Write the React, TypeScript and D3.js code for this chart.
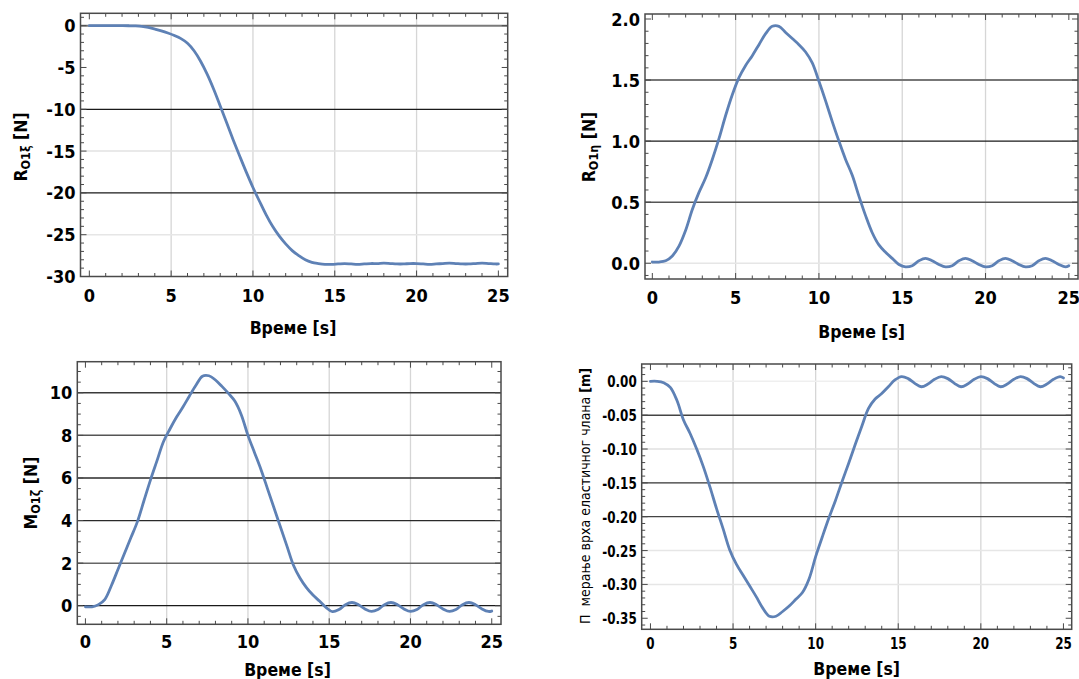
import React from 'react';
import * as d3 from 'd3';

// Sample times [s]
const TIME = [
  0, 0.4, 0.8, 1.2, 1.6, 2.0, 2.4, 2.8, 3.2, 3.6, 4.0, 4.4, 4.8, 5.2, 5.6, 6.0,
  6.4, 6.8, 7.2, 7.6, 8.0, 8.4, 8.8, 9.2, 9.6, 10.0, 10.4, 10.8, 11.2, 11.6, 12.0,
  12.4, 12.8, 13.2, 13.6, 14.0, 14.4, 14.8, 15.2, 15.6, 16.0, 16.4, 16.8, 17.2,
  17.6, 18.0, 18.4, 18.8, 19.2, 19.6, 20.0, 20.4, 20.8, 21.2, 21.6, 22.0, 22.4,
  22.8, 23.2, 23.6, 24.0, 24.4, 24.8, 25.0,
];

// R_O1xi [N]
const R_XI = [
  0, 0, 0, 0, 0, 0, -0.01, -0.03, -0.08, -0.2, -0.4, -0.62, -0.88, -1.18, -1.55, -2.1,
  -3.0, -4.25, -5.8, -7.6, -9.6, -11.65, -13.7, -15.65, -17.55, -19.35, -21.0, -22.6, -24.0, -25.15, -26.1,
  -26.9, -27.5, -28.0, -28.3, -28.45, -28.55, -28.55, -28.5, -28.45, -28.5, -28.55, -28.5, -28.45,
  -28.45, -28.4, -28.45, -28.5, -28.5, -28.45, -28.45, -28.5, -28.55, -28.5, -28.45, -28.4, -28.45,
  -28.5, -28.5, -28.45, -28.4, -28.45, -28.5, -28.5,
];

// R_O1eta [N]
const R_ETA = [
  0.01, 0.01, 0.02, 0.06, 0.14, 0.27, 0.44, 0.58, 0.70, 0.85, 1.02, 1.21, 1.38, 1.52, 1.62, 1.70,
  1.79, 1.88, 1.94, 1.94, 1.89, 1.84, 1.79, 1.73, 1.64, 1.49, 1.33, 1.16, 1.0, 0.85, 0.72,
  0.55, 0.39, 0.25, 0.15, 0.09, 0.04, -0.01, -0.03, -0.02, 0.02, 0.04, 0.02, -0.01,
  -0.03, -0.02, 0.02, 0.04, 0.02, -0.01, -0.03, -0.02, 0.02, 0.04, 0.02, -0.01, -0.03,
  -0.02, 0.02, 0.04, 0.02, -0.01, -0.03, -0.02,
];

// M_O1zeta [N]
const M_ZETA = [
  -0.05, -0.05, 0.05, 0.3, 0.95, 1.7, 2.45, 3.2, 3.95, 4.93, 5.9, 6.8, 7.7, 8.3, 8.85, 9.33,
  9.85, 10.35, 10.78, 10.8, 10.6, 10.3, 9.97, 9.6, 8.95, 8.0, 7.2, 6.4, 5.5, 4.6, 3.7,
  2.8, 1.9, 1.3, 0.85, 0.5, 0.22, -0.08, -0.28, -0.18, 0.05, 0.15, 0.05, -0.15,
  -0.27, -0.18, 0.05, 0.15, 0.05, -0.15, -0.27, -0.18, 0.05, 0.15, 0.05, -0.15, -0.27,
  -0.18, 0.05, 0.15, 0.05, -0.15, -0.27, -0.25,
];

// Tip displacement [m]
const DISP = [
  0, 0, -0.002, -0.009, -0.028, -0.057, -0.077, -0.1, -0.126, -0.156, -0.188, -0.218, -0.249, -0.27, -0.286, -0.302,
  -0.318, -0.335, -0.347, -0.347, -0.34, -0.332, -0.322, -0.312, -0.292, -0.259, -0.23, -0.202, -0.176, -0.148, -0.121,
  -0.093, -0.066, -0.04, -0.026, -0.018, -0.008, 0.002, 0.007, 0.004, -0.003, -0.008, -0.004, 0.003,
  0.007, 0.004, -0.003, -0.008, -0.004, 0.003, 0.007, 0.004, -0.003, -0.008, -0.004, 0.003, 0.007,
  0.004, -0.003, -0.008, -0.004, 0.003, 0.007, 0.005,
];

const X_TICKS = [0, 5, 10, 15, 20, 25];
const X_GRID = [5, 10, 15, 20];
const X_LABEL = 'Време [s]';

const Y_TICKS_1 = [0, -5, -10, -15, -20, -25, -30];
const Y_TICKS_2 = [0, 0.5, 1.0, 1.5, 2.0];
const Y_TICKS_3 = [0, 2, 4, 6, 8, 10];
const Y_TICKS_4 = [0, -0.05, -0.1, -0.15, -0.2, -0.25, -0.3, -0.35];

const LINE_COLOR = '#5e81b5';
const FRAME_COLOR = '#4a4a4a';
const FONT = "'DejaVu Sans Condensed', 'DejaVu Sans', sans-serif";

type HLine = { v: number; c: string; w: number };

interface Panel {
  values: number[];
  frame: { x0: number; x1: number; y0: number; y1: number };
  xDomain: [number, number];
  yDomain: [number, number];
  yTicks: number[];
  yMinorStep: number;
  decimals: number;
  hlines: HLine[];
  xTickDy: number;
  xLabelPos: [number, number];
  yLabelPos: [number, number];
  yLabel: React.ReactNode;
  yTickFont: number;
  xTickFont: number;
  tickScaleX: number;
}

const subLabel = (main: string, sub: string, unit: string) => (
  <>
    <tspan>{main}</tspan>
    <tspan dy={4} fontSize={12.5}>{sub}</tspan>
    <tspan dy={-4}>{' ' + unit}</tspan>
  </>
);

const panels: Panel[] = [
  {
    values: R_XI,
    frame: { x0: 80.5, x1: 507.7, y0: 13.3, y1: 276.5 },
    xDomain: [-0.54, 25.57],
    yDomain: [-30, 1.48],
    yTicks: Y_TICKS_1,
    yMinorStep: 1,
    decimals: 0,
    hlines: [
      { v: -15, c: '#e2e2e2', w: 1.5 },
      { v: -25, c: '#e6e6e6', w: 1.5 },
      { v: 0, c: '#7a7a7a', w: 2 },
      { v: -10, c: '#1a1a1a', w: 1.2 },
      { v: -20, c: '#1a1a1a', w: 1.2 },
    ],
    xTickDy: 18.5,
    xLabelPos: [293, 328],
    yLabelPos: [21, 147],
    yLabel: subLabel('R', 'O1ξ', '[N]'),
    yTickFont: 18,
    xTickFont: 18,
    tickScaleX: 1,
  },
  {
    values: R_ETA,
    frame: { x0: 645, x1: 1078, y0: 14, y1: 279 },
    xDomain: [-0.44, 25.55],
    yDomain: [-0.129, 2.041],
    yTicks: Y_TICKS_2,
    yMinorStep: 0.1,
    decimals: 1,
    hlines: [
      { v: 0, c: '#e6e6e6', w: 1.5 },
      { v: 1.5, c: '#777777', w: 2 },
      { v: 1.0, c: '#1a1a1a', w: 1.2 },
      { v: 0.5, c: '#555555', w: 1.5 },
    ],
    xTickDy: 18.7,
    xLabelPos: [861.7, 331.7],
    yLabelPos: [588.5, 147],
    yLabel: subLabel('R', 'O1η', '[N]'),
    yTickFont: 18,
    xTickFont: 18,
    tickScaleX: 1,
  },
  {
    values: M_ZETA,
    frame: { x0: 77.3, x1: 501, y0: 361.7, y1: 624.3 },
    xDomain: [-0.5, 25.57],
    yDomain: [-0.873, 11.46],
    yTicks: Y_TICKS_3,
    yMinorStep: 0.5,
    decimals: 0,
    hlines: [
      { v: 10, c: '#3a3a3a', w: 1.5 },
      { v: 8, c: '#555555', w: 1.5 },
      { v: 6, c: '#2a2a2a', w: 1.5 },
      { v: 4, c: '#2a2a2a', w: 1.2 },
      { v: 2, c: '#666666', w: 1.5 },
      { v: 0, c: '#1a1a1a', w: 1.2 },
    ],
    xTickDy: 17.4,
    xLabelPos: [287.5, 670],
    yLabelPos: [31, 493],
    yLabel: subLabel('M', 'O1ζ', '[N]'),
    yTickFont: 18,
    xTickFont: 18,
    tickScaleX: 1,
  },
  {
    values: DISP,
    frame: { x0: 641.7, x1: 1071.7, y0: 364, y1: 629.3 },
    xDomain: [-0.53, 25.5],
    yDomain: [-0.3663, 0.0256],
    yTicks: Y_TICKS_4,
    yMinorStep: 0.01,
    decimals: 2,
    hlines: [
      { v: 0, c: '#efefef', w: 1.5 },
      { v: -0.1, c: '#e0e0e0', w: 1.5 },
      { v: -0.25, c: '#e6e6e6', w: 1.5 },
      { v: -0.3, c: '#e6e6e6', w: 1.5 },
      { v: -0.05, c: '#444444', w: 1.5 },
      { v: -0.15, c: '#333333', w: 1.2 },
      { v: -0.2, c: '#444444', w: 1.2 },
    ],
    xTickDy: 14,
    xLabelPos: [856.7, 669.3],
    yLabelPos: [585, 496],
    yLabel: (
      <>
        <tspan fontWeight="normal" fontSize={14}>{'П\u00A0\u00A0мерање врха еластичног члана '}</tspan>
        <tspan fontSize={14}>[m]</tspan>
      </>
    ),
    yTickFont: 16,
    xTickFont: 16,
    tickScaleX: 0.83,
  },
];

function fmt(v: number, d: number) {
  return Math.abs(v) < 1e-9 ? (0).toFixed(d) : v.toFixed(d);
}

function TickText({ x, y, anchor, size, sx, children }: { x: number; y: number; anchor: string; size: number; sx: number; children: React.ReactNode }) {
  return (
    <g transform={`translate(${x},${y}) scale(${sx},1)`}>
      <text x={0} y={0} textAnchor={anchor} dominantBaseline="central" fontSize={size} fontWeight="bold" fontFamily={FONT} fontStretch="condensed" fill="#000">
        {children}
      </text>
    </g>
  );
}

function PlotPanel({ p, idx }: { p: Panel; idx: number }) {
  const { frame } = p;
  const x = d3.scaleLinear().domain(p.xDomain).range([frame.x0, frame.x1]);
  const y = d3.scaleLinear().domain(p.yDomain).range([frame.y1, frame.y0]);
  const pts: [number, number][] = TIME.map((t, i) => [t, p.values[i]]);
  const line = d3
    .line<[number, number]>()
    .x((d) => x(d[0]))
    .y((d) => y(d[1]))
    .curve(d3.curveCatmullRom.alpha(0.5));
  const xMinor = d3.range(0, 25.0001, 1);
  const [yl, yh] = p.yDomain;
  const yMinor: number[] = [];
  const start = Math.ceil(yl / p.yMinorStep - 1e-6);
  const end = Math.floor(yh / p.yMinorStep + 1e-6);
  for (let k = start; k <= end; k++) yMinor.push(k * p.yMinorStep);
  const isMajorY = (v: number) => p.yTicks.some((t) => Math.abs(t - v) < 1e-6);
  const isMajorX = (v: number) => X_TICKS.some((t) => Math.abs(t - v) < 1e-6);
  const clipId = `clip-${idx}`;
  const majorLen = 6;
  const minorLen = 3.5;
  return (
    <g>
      <defs>
        <clipPath id={clipId}>
          <rect x={frame.x0} y={frame.y0} width={frame.x1 - frame.x0} height={frame.y1 - frame.y0} />
        </clipPath>
      </defs>
      {X_GRID.map((g) => (
        <line key={'vg' + g} x1={x(g)} x2={x(g)} y1={frame.y0} y2={frame.y1} stroke="#d6d6d6" strokeWidth={1.3} />
      ))}
      {p.hlines.map((h) => (
        <line key={'hl' + h.v} x1={frame.x0} x2={frame.x1} y1={y(h.v)} y2={y(h.v)} stroke={h.c} strokeWidth={h.w} />
      ))}
      <path d={line(pts) || ''} fill="none" stroke={LINE_COLOR} strokeWidth={2.8} strokeLinejoin="round" strokeLinecap="round" clipPath={`url(#${clipId})`} />
      <rect x={frame.x0} y={frame.y0} width={frame.x1 - frame.x0} height={frame.y1 - frame.y0} fill="none" stroke={FRAME_COLOR} strokeWidth={1.5} />
      {xMinor.map((t) => {
        const L = isMajorX(t) ? majorLen : minorLen;
        return (
          <g key={'xt' + t}>
            <line x1={x(t)} x2={x(t)} y1={frame.y1} y2={frame.y1 - L} stroke={FRAME_COLOR} strokeWidth={1} />
            <line x1={x(t)} x2={x(t)} y1={frame.y0} y2={frame.y0 + L} stroke={FRAME_COLOR} strokeWidth={1} />
          </g>
        );
      })}
      {yMinor.map((v) => {
        const L = isMajorY(v) ? majorLen : minorLen;
        return (
          <g key={'yt' + v}>
            <line x1={frame.x0} x2={frame.x0 + L} y1={y(v)} y2={y(v)} stroke={FRAME_COLOR} strokeWidth={1} />
            <line x1={frame.x1} x2={frame.x1 - L} y1={y(v)} y2={y(v)} stroke={FRAME_COLOR} strokeWidth={1} />
          </g>
        );
      })}
      {X_TICKS.map((t) => (
        <TickText key={'xl' + t} x={x(t)} y={frame.y1 + p.xTickDy} anchor="middle" size={p.xTickFont} sx={p.tickScaleX}>
          {t}
        </TickText>
      ))}
      {p.yTicks.map((v) => (
        <TickText key={'yl' + v} x={frame.x0 - 5} y={y(v)} anchor="end" size={p.yTickFont} sx={p.tickScaleX}>
          {fmt(v, p.decimals)}
        </TickText>
      ))}
      <text x={p.xLabelPos[0]} y={p.xLabelPos[1]} textAnchor="middle" dominantBaseline="central" fontSize={17.5} fontWeight="bold" fontFamily={FONT} fontStretch="condensed" fill="#000">
        {X_LABEL}
      </text>
      <text transform={`translate(${p.yLabelPos[0]},${p.yLabelPos[1]}) rotate(-90)`} textAnchor="middle" dominantBaseline="central" fontSize={17.5} fontWeight="bold" fontFamily={FONT} fontStretch="condensed" fill="#000">
        {p.yLabel}
      </text>
    </g>
  );
}

export default function App() {
  return (
    <svg width={1079} height={679} viewBox="0 0 1079 679" style={{ position: 'absolute', left: 0, top: 0, background: '#fff' }}>
      <rect x={0} y={0} width={1079} height={679} fill="#fff" />
      {panels.map((p, i) => (
        <PlotPanel key={i} p={p} idx={i} />
      ))}
    </svg>
  );
}
